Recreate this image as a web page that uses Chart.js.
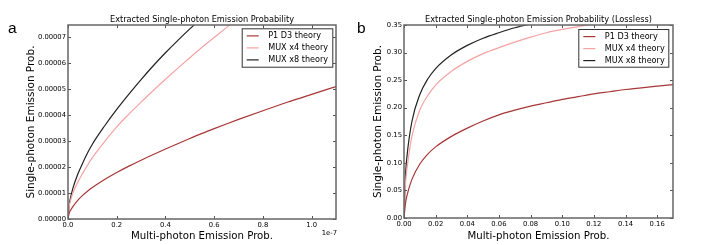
<!DOCTYPE html>
<html><head><meta charset="utf-8">
<script src="https://cdn.jsdelivr.net/npm/chart.js@4"></script>
<style>
html,body{margin:0;padding:0;background:#fff;}
#wrap{position:relative;width:707px;height:245px;overflow:hidden;background:#fff;}
canvas{position:absolute;top:0;}
#ca{left:0;} #cb{left:350px;}
</style></head><body>
<div id="wrap"><canvas id="ca" width="350" height="245"></canvas><canvas id="cb" width="357" height="245"></canvas></div>
<script>
const seriesNames = ['P1 D3 theory', 'MUX x4 theory', 'MUX x8 theory'];
const seriesColors = ['#a83636', '#f5a3a3', '#222222'];

// Panel a: x in units of 1e-7, y in units of 1e-5
const xA = [0,0.005,0.01,0.02,0.04,0.06,0.08,0.1,0.15,0.2,0.25,0.3,0.35,0.4,0.45,0.5,0.55,0.6,0.65,0.7,0.8,0.9,1.0,1.1];
const p1A  = [0,0.23,0.33,0.48,0.72,0.91,1.07,1.21,1.52,1.79,2.035,2.265,2.485,2.695,2.90,3.10,3.295,3.48,3.66,3.835,4.17,4.495,4.80,5.10];
const mux4A = [0,0.49,0.70,1.00,1.42,1.75,2.07,2.36,2.98,3.55,4.04,4.50,4.95,5.38,5.80,6.21,6.61,6.99,7.37,7.74];
const mux8A = [0,0.55,0.80,1.18,1.72,2.15,2.54,2.88,3.58,4.22,4.81,5.37,5.90,6.40,6.87,7.32,7.75];
const xTicksA = [0,0.2,0.4,0.6,0.8,1.0];
const yTicksA = [0,1,2,3,4,5,6,7];

// Panel b (lossless)
const xB = [0,0.001,0.002,0.005,0.01,0.015,0.02,0.03,0.04,0.05,0.06,0.07,0.08,0.09,0.10,0.11,0.12,0.13,0.14,0.15,0.16,0.17];
const p1B  = [0,0.028,0.042,0.070,0.098,0.116,0.129,0.148,0.163,0.176,0.187,0.1955,0.203,0.209,0.215,0.220,0.225,0.229,0.233,0.236,0.239,0.242];
const mux4B = [0,0.065,0.092,0.148,0.196,0.222,0.241,0.266,0.284,0.298,0.309,0.319,0.328,0.336,0.342,0.347,0.352,0.356];
const mux8B = [0,0.08,0.115,0.175,0.224,0.252,0.271,0.296,0.313,0.326,0.336,0.345,0.352,0.358];
const xTicksB = [0,0.02,0.04,0.06,0.08,0.10,0.12,0.14,0.16];
const yTicksB = [0,0.05,0.10,0.15,0.20,0.25,0.30,0.35];

const FONT = "'DejaVu Sans', sans-serif";

const deco = {
  id: 'deco',
  afterDraw(chart, args, o) {
    const ctx = chart.ctx;
    const {left, right, top, bottom} = chart.chartArea;
    const xs = chart.scales.x, ys = chart.scales.y;
    ctx.save();
    ctx.strokeStyle = '#555';
    ctx.lineWidth = 1;
    ctx.beginPath();
    xs.ticks.forEach(t => {
      const px = Math.round(xs.getPixelForValue(t.value)) + 0.5;
      ctx.moveTo(px, bottom); ctx.lineTo(px, bottom - 3);
      ctx.moveTo(px, top); ctx.lineTo(px, top + 3);
    });
    ys.ticks.forEach(t => {
      const py = Math.round(ys.getPixelForValue(t.value)) + 0.5;
      ctx.moveTo(left, py); ctx.lineTo(left + 3, py);
      ctx.moveTo(right, py); ctx.lineTo(right - 3, py);
    });
    ctx.stroke();
    ctx.lineWidth = 1.5;
    ctx.strokeStyle = '#666';
    ctx.strokeRect(left, top, right - left, bottom - top);

    ctx.fillStyle = '#000';
    ctx.font = '8.2px ' + FONT;
    ctx.textAlign = 'center';
    ctx.textBaseline = 'middle';
    ctx.fillText(o.title, (left + right) / 2, 19.5);

    ctx.font = '15.5px "Liberation Sans", Arial, sans-serif';
    ctx.textAlign = 'left';
    ctx.textBaseline = 'alphabetic';
    ctx.fillText(o.panel, o.panelX, 33);

    if (o.offsetText) {
      ctx.font = '6.8px ' + FONT;
      ctx.textAlign = 'right';
      ctx.textBaseline = 'middle';
      ctx.fillText(o.offsetText, right + 1, 233);
    }

    const bw = o.legW, bh = o.legH;
    const bx = right - o.legRight - bw, by = top + o.legTop;
    ctx.fillStyle = '#fff';
    ctx.fillRect(bx, by, bw, bh);
    ctx.strokeStyle = '#333';
    ctx.lineWidth = 1;
    ctx.strokeRect(bx + 0.5, by + 0.5, bw, bh);
    ctx.font = '8.1px ' + FONT;
    ctx.textBaseline = 'middle';
    ctx.textAlign = 'left';
    chart.data.datasets.forEach((ds, i) => {
      const yy = by + 7.6 + i * 12;
      ctx.strokeStyle = ds.borderColor;
      ctx.lineWidth = 1.2;
      ctx.beginPath();
      ctx.moveTo(bx + 5, yy); ctx.lineTo(bx + 17, yy);
      ctx.stroke();
      ctx.fillStyle = '#000';
      ctx.fillText(ds.label, bx + 26.5, yy);
    });
    ctx.restore();
  }
};

function makeDatasets(xs, series, xUnit, yUnit) {
  return series.map((ys, k) => ({
    label: seriesNames[k],
    data: ys.map((y, i) => ({x: xs[i] * xUnit, y: y * yUnit})),
    borderColor: seriesColors[k],
    backgroundColor: seriesColors[k],
    borderWidth: 1.2,
    pointRadius: 0,
    cubicInterpolationMode: 'monotone',
    fill: false
  }));
}

function makeChart(id, cfg) {
  return new Chart(document.getElementById(id), {
    type: 'line',
    data: {datasets: cfg.datasets},
    options: {
      responsive: false,
      animation: false,
      events: [],
      layout: {padding: {top: 25, right: cfg.padRight, left: 0, bottom: 0}},
      plugins: {
        legend: {display: false},
        tooltip: {enabled: false},
        deco: cfg.deco
      },
      scales: {
        x: {
          type: 'linear',
          min: cfg.xMin, max: cfg.xMax,
          afterBuildTicks: s => { s.ticks = cfg.xTicks.map(v => ({value: v})); },
          afterFit: s => { s.height = cfg.xHeight; },
          grid: {display: false, drawTicks: false},
          border: {display: false},
          ticks: {
            autoSkip: false, maxRotation: 0, padding: 2, color: '#000',
            font: {family: FONT, size: 6.8},
            callback: cfg.xFmt
          },
          title: {display: true, text: 'Multi-photon Emission Prob.', color: '#000',
                  font: {family: FONT, size: 10.2}, padding: {top: 0, bottom: 3}}
        },
        y: {
          type: 'linear',
          min: cfg.yMin, max: cfg.yMax,
          afterBuildTicks: s => { s.ticks = cfg.yTicks.map(v => ({value: v})); },
          afterFit: s => { s.width = cfg.yWidth; },
          grid: {display: false, drawTicks: false},
          border: {display: false},
          ticks: {
            autoSkip: false, padding: 2, color: '#000',
            font: {family: FONT, size: 6.8},
            callback: cfg.yFmt
          },
          title: {display: true, text: 'Single-photon Emission Prob.', color: '#000',
                  font: {family: FONT, size: 10.5}, padding: {top: cfg.yTitlePad, bottom: 0}}
        }
      }
    },
    plugins: [deco]
  });
}

makeChart('ca', {
  datasets: makeDatasets(xA, [p1A, mux4A, mux8A], 1e-7, 1e-5),
  padRight: 14, xHeight: 26, yWidth: 68, yTitlePad: 25,
  xMin: 0, xMax: 1.1e-7, yMin: 0, yMax: 7.47e-5,
  xTicks: xTicksA.map(v => v * 1e-7), yTicks: yTicksA.map(v => v * 1e-5),
  xFmt: v => (v / 1e-7).toFixed(1),
  yFmt: v => v.toFixed(5),
  deco: {title: 'Extracted Single-photon Emission Probability', panel: 'a', panelX: 8,
         offsetText: '1e-7', legW: 90.6, legH: 38.4, legRight: 3.7, legTop: 3.3}
});

makeChart('cb', {
  datasets: makeDatasets(xB, [p1B, mux4B, mux8B], 1, 1),
  padRight: 34, xHeight: 27, yWidth: 54, yTitlePad: 22,
  xMin: 0, xMax: 0.17, yMin: 0, yMax: 0.35,
  xTicks: xTicksB, yTicks: yTicksB,
  xFmt: v => v.toFixed(2),
  yFmt: v => v.toFixed(2),
  deco: {title: 'Extracted Single-photon Emission Probability (Lossless)', panel: 'b', panelX: 7,
         offsetText: '', legW: 90, legH: 37.7, legRight: 4.7, legTop: 4}
});
</script>
</body></html>
